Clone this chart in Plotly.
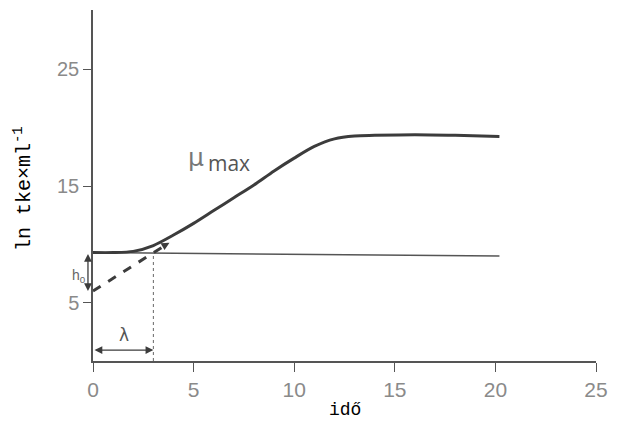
import plotly.graph_objects as go

# Growth curve: time vs. ln of colony-forming units per ml
time = [0, 1, 2, 3, 4, 5, 6, 7, 8, 9, 10, 11, 12, 13, 14, 16, 18, 20.2]
ln_count = [9.3, 9.3, 9.4, 9.9, 10.8, 11.8, 12.9, 14.0, 15.1, 16.3, 17.4, 18.4,
            19.05, 19.3, 19.35, 19.4, 19.35, 19.25]

# Initial level carried across the whole time span
base_time = [0, 20.2]
base_ln = [9.3, 9.0]

# Tangent at the maximum growth rate (mu_max)
tangent_time = [0, 3.75]
tangent_ln = [6.0, 10.1]

lag_time = 3.0        # lambda
lag_level = 9.3       # level at the start
tangent_start = 6.0   # tangent intercept at t = 0

x_ticks = [0, 5, 10, 15, 20, 25]
y_ticks = [5, 15, 25]

x_max = 25

ink = "#3c3c3c"
grey = "#8a8a8a"

fig = go.Figure()

fig.add_trace(go.Scatter(x=base_time, y=base_ln, mode="lines",
                         line=dict(color="#555555", width=1.5),
                         hoverinfo="skip"))
fig.add_trace(go.Scatter(x=[lag_time, lag_time], y=[0, lag_level], mode="lines",
                         line=dict(color="#666666", width=1, dash="dot"),
                         hoverinfo="skip"))
fig.add_trace(go.Scatter(x=tangent_time, y=tangent_ln, mode="lines",
                         line=dict(color=ink, width=3, dash="dash"),
                         hoverinfo="skip"))
fig.add_trace(go.Scatter(x=time, y=ln_count, mode="lines",
                         line=dict(color=ink, width=3, shape="spline", smoothing=0.8),
                         hoverinfo="skip"))

annotations = [
    # lag time arrow
    dict(x=lag_time, y=0.94, ax=0, ay=0.94, xref="x", yref="y", axref="x", ayref="y",
         text="", showarrow=True, arrowside="end+start", arrowhead=2, arrowsize=1.2,
         arrowwidth=1.3, arrowcolor=ink),
    dict(x=1.52, y=2.2, xref="x", yref="y", text="λ", showarrow=False,
         font=dict(family="DejaVu Sans", size=17, color="#555555")),
    # h0 arrow, just left of the y axis
    dict(x=-0.25 / x_max, y=tangent_start, xref="paper", yref="y",
         ax=0, ay=lag_level, axref="pixel", ayref="y",
         text="", showarrow=True, arrowside="end+start",
         arrowhead=2, arrowsize=1.2, arrowwidth=1.3, arrowcolor=ink),
    dict(x=-1.12 / x_max, y=7.3, xref="paper", yref="y", text="h<sub>0</sub>",
         showarrow=False,
         font=dict(family="Liberation Sans", size=14, color="#666666")),
    # head of the tangent
    dict(x=3.8, y=10.15, ax=3.5, ay=9.85, xref="x", yref="y", axref="x", ayref="y",
         text="", showarrow=True, arrowhead=2, arrowsize=0.8, arrowwidth=2,
         arrowcolor=ink),
    # mu_max label
    dict(x=5.13, y=17.45, xref="x", yref="y", text="μ", showarrow=False,
         font=dict(family="DejaVu Sans", size=25, color="#777777")),
    dict(x=6.75, y=16.95, xref="x", yref="y", text="max", showarrow=False,
         font=dict(family="Open Sans", size=21, color="#555555")),
    # axis titles
    dict(x=-0.139, y=0.49, xref="paper", yref="paper", text="ln tke×ml<sup>-1</sup>",
         textangle=-90, showarrow=False, xanchor="center", yanchor="middle",
         font=dict(family="Liberation Mono", size=20, color="#000000")),
    dict(x=0.5, y=-0.14, xref="paper", yref="paper", text="idő",
         showarrow=False, xanchor="center", yanchor="middle",
         font=dict(family="Liberation Mono", size=18, color="#000000")),
]

fig.update_layout(
    width=618, height=421,
    margin=dict(l=93, r=13, t=10, b=60),
    paper_bgcolor="white", plot_bgcolor="white",
    showlegend=False,
    annotations=annotations,
    xaxis=dict(range=[0, x_max], tickvals=x_ticks, ticks="outside", ticklen=9,
               tickcolor="#555555", tickwidth=1.3, showline=True,
               linecolor="#555555", linewidth=1.5, showgrid=False, zeroline=False,
               tickfont=dict(family="Liberation Sans", size=21, color=grey)),
    yaxis=dict(range=[0, 30.1], tickvals=y_ticks, ticks="outside", ticklen=8,
               tickcolor="#555555", tickwidth=1.3, showline=True,
               linecolor="#555555", linewidth=1.5, showgrid=False, zeroline=False,
               tickfont=dict(family="Liberation Sans", size=20, color=grey)),
)

fig.write_html("out.html")
